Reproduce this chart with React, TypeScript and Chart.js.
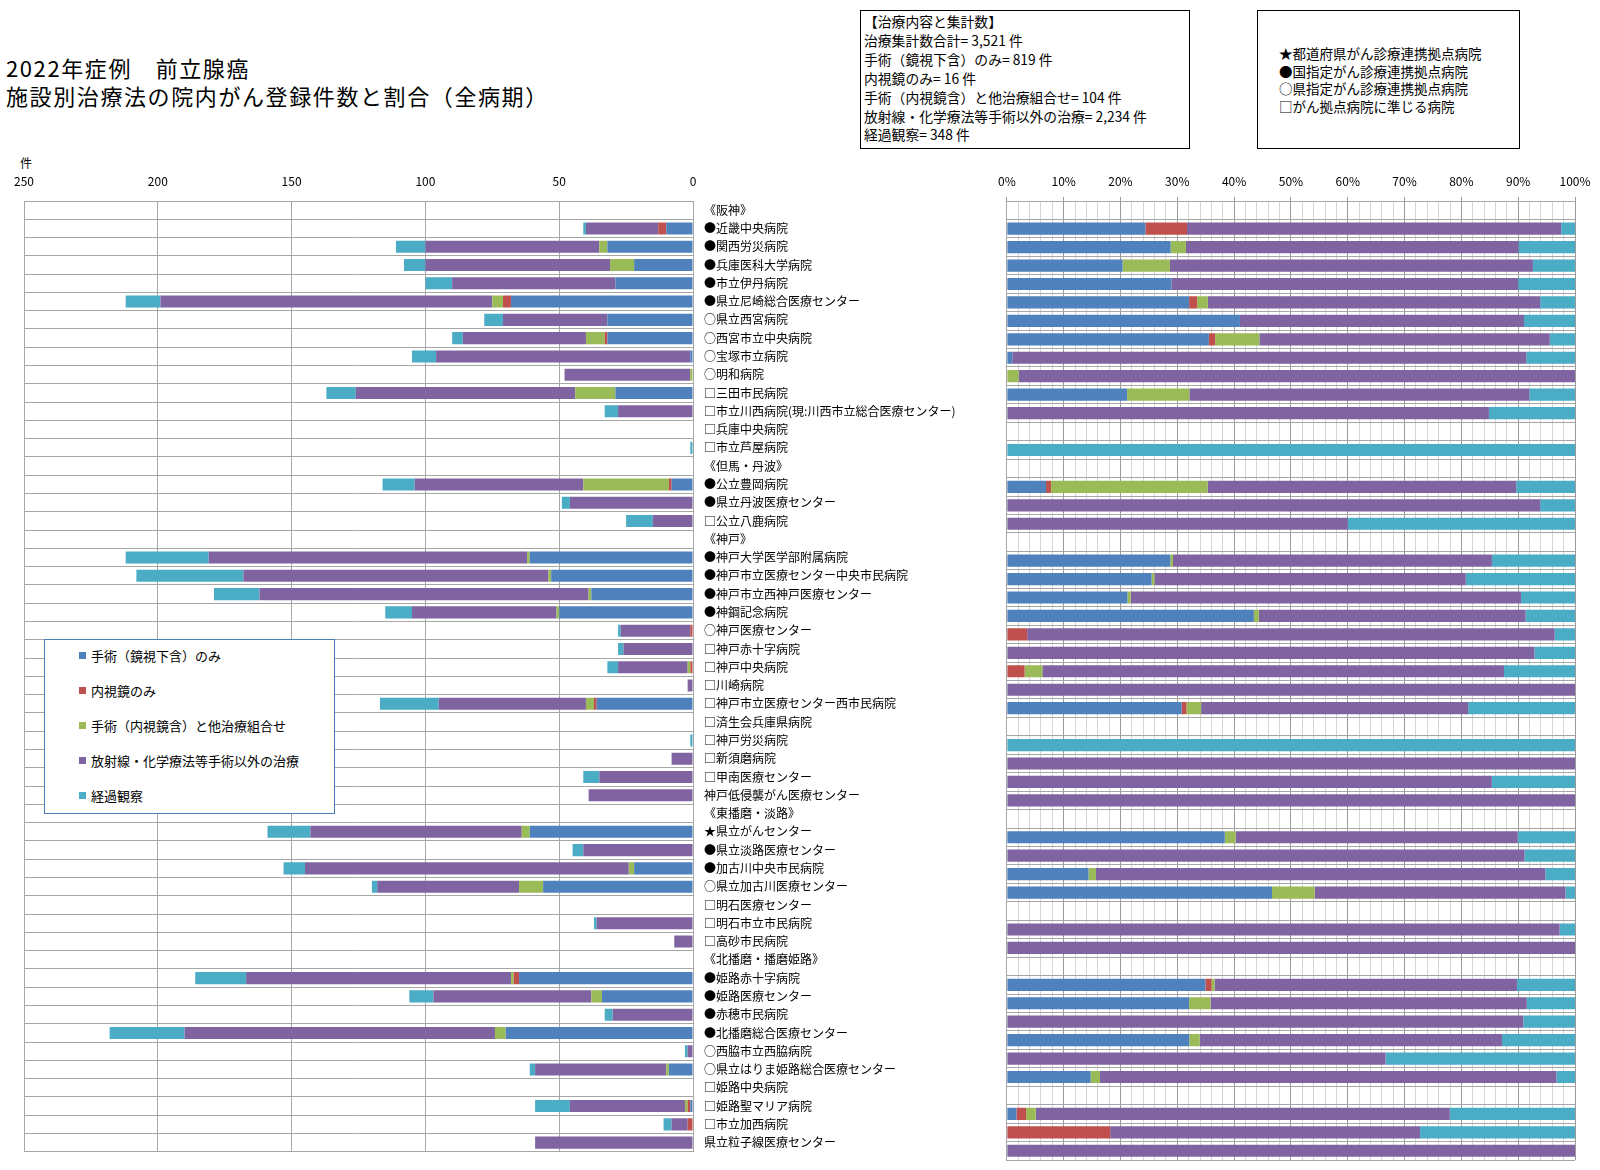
import React, { useEffect, useRef } from "react";
import { Chart, registerables } from "chart.js";

Chart.register(...registerables);

// ---- data ----
const categories: string[] = [
  "《阪神》",
  "●近畿中央病院",
  "●関西労災病院",
  "●兵庫医科大学病院",
  "●市立伊丹病院",
  "●県立尼崎総合医療センター",
  "○県立西宮病院",
  "○西宮市立中央病院",
  "○宝塚市立病院",
  "○明和病院",
  "□三田市民病院",
  "□市立川西病院(現:川西市立総合医療センター)",
  "□兵庫中央病院",
  "□市立芦屋病院",
  "《但馬・丹波》",
  "●公立豊岡病院",
  "●県立丹波医療センター",
  "□公立八鹿病院",
  "《神戸》",
  "●神戸大学医学部附属病院",
  "●神戸市立医療センター中央市民病院",
  "●神戸市立西神戸医療センター",
  "●神鋼記念病院",
  "○神戸医療センター",
  "□神戸赤十字病院",
  "□神戸中央病院",
  "□川崎病院",
  "□神戸市立医療センター西市民病院",
  "□済生会兵庫県病院",
  "□神戸労災病院",
  "□新須磨病院",
  "□甲南医療センター",
  "神戸低侵襲がん医療センター",
  "《東播磨・淡路》",
  "★県立がんセンター",
  "●県立淡路医療センター",
  "●加古川中央市民病院",
  "○県立加古川医療センター",
  "□明石医療センター",
  "□明石市立市民病院",
  "□高砂市民病院",
  "《北播磨・播磨姫路》",
  "●姫路赤十字病院",
  "●姫路医療センター",
  "●赤穂市民病院",
  "●北播磨総合医療センター",
  "○西脇市立西脇病院",
  "○県立はりま姫路総合医療センター",
  "□姫路中央病院",
  "□姫路聖マリア病院",
  "□市立加西病院",
  "県立粒子線医療センター",
];

// 手術（鏡視下含）のみ
const surgeryOnly: number[] = [
  0, 10, 32, 22, 29, 68, 32, 32, 1, 0, 29, 0, 0, 0,
  0, 8, 0, 0,
  0, 61, 53, 38, 50, 0, 0, 0, 0, 36, 0, 0, 0, 0, 0,
  0, 61, 0, 22, 56, 0, 0, 0,
  0, 65, 34, 0, 70, 0, 9, 0, 1, 0, 0,
];
// 内視鏡のみ
const endoscopeOnly: number[] = [
  0, 3, 0, 0, 0, 3, 0, 1, 0, 0, 0, 0, 0, 0,
  0, 1, 0, 0,
  0, 0, 0, 0, 0, 1, 0, 1, 0, 1, 0, 0, 0, 0, 0,
  0, 0, 0, 0, 0, 0, 0, 0,
  0, 2, 0, 0, 0, 0, 0, 0, 1, 2, 0,
];
// 手術（内視鏡含）と他治療組合せ
const surgeryCombined: number[] = [
  0, 0, 3, 9, 0, 4, 0, 7, 0, 1, 15, 0, 0, 0,
  0, 32, 0, 0,
  0, 1, 1, 1, 1, 0, 0, 1, 0, 3, 0, 0, 0, 0, 0,
  0, 3, 0, 2, 9, 0, 0, 0,
  0, 1, 4, 0, 4, 0, 1, 0, 1, 0, 0,
];
// 放射線・化学療法等手術以外の治療
const nonSurgical: number[] = [
  0, 27, 65, 69, 61, 124, 39, 46, 95, 47, 82, 28, 0, 0,
  0, 63, 46, 15,
  0, 119, 114, 123, 54, 26, 26, 26, 2, 55, 0, 0, 8, 35, 39,
  0, 79, 41, 121, 53, 0, 36, 7,
  0, 99, 59, 30, 116, 2, 49, 0, 43, 6, 59,
];
// 経過観察
const observation: number[] = [
  0, 1, 11, 8, 10, 13, 7, 4, 9, 0, 11, 5, 0, 1,
  0, 12, 3, 10,
  0, 31, 40, 17, 10, 1, 2, 4, 0, 22, 0, 1, 0, 6, 0,
  0, 16, 4, 8, 2, 0, 1, 0,
  0, 19, 9, 3, 28, 1, 2, 0, 13, 3, 0,
];

const seriesLabels: string[] = [
  "手術（鏡視下含）のみ",
  "内視鏡のみ",
  "手術（内視鏡含）と他治療組合せ",
  "放射線・化学療法等手術以外の治療",
  "経過観察",
];

const countAxisMax = 250;
const countAxisStep = 50;
const percentAxisMax = 100;
const countUnit = "件";

const summaryLines: string[] = [
  "【治療内容と集計数】",
  "治療集計数合計= 3,521 件",
  "手術（鏡視下含）のみ= 819 件",
  "内視鏡のみ= 16 件",
  "手術（内視鏡含）と他治療組合せ= 104 件",
  "放射線・化学療法等手術以外の治療= 2,234 件",
  "経過観察= 348 件",
];

const markLines: string[] = [
  "★都道府県がん診療連携拠点病院",
  "●国指定がん診療連携拠点病院",
  "○県指定がん診療連携拠点病院",
  "□がん拠点病院に準じる病院",
];

// ---- styles ----
const COLORS = ["#4f81bd", "#c0504d", "#9bbb59", "#8064a2", "#4bacc6"];
const FONT = '"Noto Sans CJK JP", "Noto Sans", sans-serif';
const GRID = "#a6a6a6";

const allSeries = [surgeryOnly, endoscopeOnly, surgeryCombined, nonSurgical, observation];
const totals = categories.map((_, i) => allSeries.reduce((s, arr) => s + arr[i], 0));
const percentSeries = allSeries.map((arr) =>
  arr.map((v, i) => (totals[i] ? (v / totals[i]) * 100 : 0))
);

function makeDatasets(series: number[][]) {
  return series.map((data, k) => ({
    label: seriesLabels[k],
    data,
    backgroundColor: COLORS[k],
    borderWidth: 0,
    barPercentage: 0.66,
    categoryPercentage: 1,
  }));
}

export default function App() {
  const leftRef = useRef<HTMLCanvasElement | null>(null);
  const rightRef = useRef<HTMLCanvasElement | null>(null);

  useEffect(() => {
    if (!leftRef.current || !rightRef.current) return;

    const left = new Chart(leftRef.current, {
      type: "bar",
      data: { labels: categories, datasets: makeDatasets(allSeries) as any },
      options: {
        indexAxis: "y",
        animation: false,
        responsive: false,
        maintainAspectRatio: false,
        layout: { padding: { left: 24, top: 140, right: 0, bottom: 10 } },
        plugins: { legend: { display: false }, tooltip: { enabled: false } },
        scales: {
          x: {
            position: "top",
            stacked: true,
            reverse: true,
            min: 0,
            max: countAxisMax,
            ticks: {
              stepSize: countAxisStep,
              padding: 12,
              color: "#000",
              font: { family: FONT, size: 12 },
              maxRotation: 0,
            },
            grid: { color: GRID, drawTicks: false, lineWidth: 1 },
            border: { display: true, color: GRID },
            afterFit: (s: any) => {
              s.height = 61;
            },
          } as any,
          y: {
            position: "right",
            stacked: true,
            ticks: {
              autoSkip: false,
              padding: 11,
              color: "#000",
              font: { family: FONT, size: 12 },
            },
            grid: { color: GRID, drawTicks: false, offset: true, lineWidth: 1 },
            border: { display: true, color: GRID },
            afterFit: (s: any) => {
              s.width = 297;
            },
          } as any,
        },
      },
    });

    const right = new Chart(rightRef.current, {
      type: "bar",
      data: { labels: categories, datasets: makeDatasets(percentSeries) as any },
      options: {
        indexAxis: "y",
        animation: false,
        responsive: false,
        maintainAspectRatio: false,
        layout: { padding: { left: 16, top: 140, right: 25, bottom: 10 } },
        plugins: { legend: { display: false }, tooltip: { enabled: false } },
        scales: {
          x: {
            position: "top",
            stacked: true,
            min: 0,
            max: percentAxisMax,
            ticks: {
              stepSize: 2,
              autoSkip: false,
              maxRotation: 0,
              padding: 8,
              color: "#000",
              font: { family: FONT, size: 12 },
              callback: (v: any) => (Math.round(v) % 10 === 0 ? `${v}%` : ""),
            },
            grid: {
              color: (c: any) => (Math.round(c.tick?.value ?? 0) % 10 === 0 ? "#9a9a9a" : "#d4d4d4"),
              tickColor: (c: any) =>
                Math.round(c.tick?.value ?? 0) % 10 === 0 ? "#9a9a9a" : "rgba(0,0,0,0)",
              tickLength: 4,
              lineWidth: 1,
            },
            border: { display: true, color: GRID },
            afterFit: (s: any) => {
              s.height = 61;
            },
          } as any,
          y: {
            position: "left",
            stacked: true,
            ticks: { display: false },
            grid: { color: GRID, drawTicks: false, offset: true, lineWidth: 1 },
            border: { display: true, color: GRID },
            afterFit: (s: any) => {
              s.width = 0;
            },
          } as any,
        },
      },
    });

    return () => {
      left.destroy();
      right.destroy();
    };
  }, []);

  return (
    <div
      style={{
        position: "absolute",
        left: 0,
        top: 0,
        width: 1600,
        height: 1170,
        background: "#fff",
        fontFamily: FONT,
        color: "#000",
        overflow: "hidden",
      }}
    >
      <div
        style={{
          position: "absolute",
          left: 6,
          top: 53,
          fontSize: 22,
          lineHeight: "28px",
          letterSpacing: 1.6,
          whiteSpace: "pre",
        }}
      >
        {"2022年症例　前立腺癌\n施設別治療法の院内がん登録件数と割合（全病期）"}
      </div>

      <div
        style={{
          position: "absolute",
          left: 860,
          top: 10,
          width: 330,
          height: 139,
          boxSizing: "border-box",
          border: "1px solid #000",
          padding: "1px 0 0 3px",
          fontSize: 13.8,
          lineHeight: "18.9px",
          whiteSpace: "pre",
        }}
      >
        {summaryLines.map((t, i) => (
          <div key={i}>{t}</div>
        ))}
      </div>

      <div
        style={{
          position: "absolute",
          left: 1257,
          top: 10,
          width: 263,
          height: 139,
          boxSizing: "border-box",
          border: "1px solid #000",
          padding: "34px 0 0 21px",
          fontSize: 13.5,
          lineHeight: "17.7px",
          whiteSpace: "pre",
        }}
      >
        {markLines.map((t, i) => (
          <div key={i}>{t}</div>
        ))}
      </div>

      <div
        style={{
          position: "absolute",
          left: 20,
          top: 155,
          fontSize: 12,
          lineHeight: "16px",
        }}
      >
        {countUnit}
      </div>

      <canvas
        ref={leftRef}
        width={990}
        height={1170}
        style={{ position: "absolute", left: 0, top: 0, width: 990, height: 1170 }}
      />
      <canvas
        ref={rightRef}
        width={610}
        height={1170}
        style={{ position: "absolute", left: 990, top: 0, width: 610, height: 1170 }}
      />

      <div
        style={{
          position: "absolute",
          left: 44,
          top: 639,
          width: 291,
          height: 175,
          boxSizing: "border-box",
          border: "1px solid #4a7ebb",
          background: "#fff",
          zIndex: 2,
        }}
      >
        {seriesLabels.map((t, k) => (
          <div
            key={k}
            style={{
              position: "absolute",
              left: 34,
              top: 15 + k * 35.2 - 9,
              height: 18,
              display: "flex",
              alignItems: "center",
              fontSize: 13,
              whiteSpace: "nowrap",
            }}
          >
            <span
              style={{
                display: "inline-block",
                width: 7,
                height: 7,
                background: COLORS[k],
                marginRight: 5,
              }}
            />
            {t}
          </div>
        ))}
      </div>
    </div>
  );
}
